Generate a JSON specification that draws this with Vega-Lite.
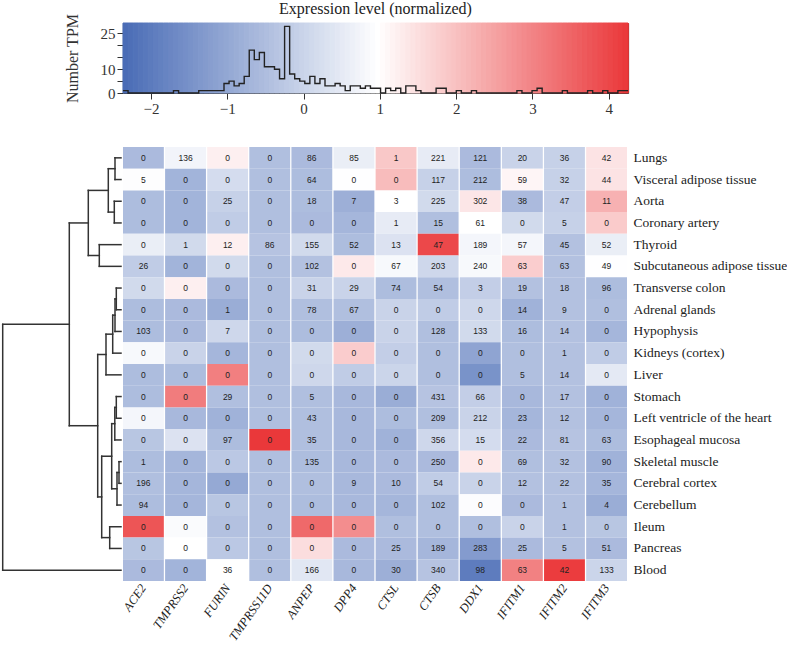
{
  "$schema": "https://vega.github.io/schema/vega-lite/v6.json",
  "background": "white",
  "padding": {"left": 0, "top": 1, "right": 0, "bottom": 0},
  "columns": 2,
  "spacing": {"row": 54, "column": 0},
  "bounds": "flush",
  "config": {"view": {"stroke": null}, "font": "Liberation Serif"},
  "datasets": {
    "bins": [
      {"x0": -2.367, "x1": -2.3008, "n": 1}, {"x0": -2.3008, "x1": -2.2346, "n": 0}, {"x0": -2.2346, "x1": -2.1684, "n": 0}, {"x0": -2.1684, "x1": -2.1022, "n": 0}, {"x0": -2.1022, "x1": -2.036, "n": 0},
      {"x0": -2.036, "x1": -1.9698, "n": 0}, {"x0": -1.9698, "x1": -1.9036, "n": 0}, {"x0": -1.9036, "x1": -1.8374, "n": 0}, {"x0": -1.8374, "x1": -1.7712, "n": 0}, {"x0": -1.7712, "x1": -1.705, "n": 0},
      {"x0": -1.705, "x1": -1.6388, "n": 1}, {"x0": -1.6388, "x1": -1.5726, "n": 0}, {"x0": -1.5726, "x1": -1.5064, "n": 0}, {"x0": -1.5064, "x1": -1.4402, "n": 0}, {"x0": -1.4402, "x1": -1.374, "n": 0},
      {"x0": -1.374, "x1": -1.3078, "n": 1}, {"x0": -1.3078, "x1": -1.2416, "n": 1}, {"x0": -1.2416, "x1": -1.1754, "n": 1}, {"x0": -1.1754, "x1": -1.1092, "n": 1}, {"x0": -1.1092, "x1": -1.043, "n": 1},
      {"x0": -1.043, "x1": -0.9768, "n": 4}, {"x0": -0.9768, "x1": -0.9106, "n": 5}, {"x0": -0.9106, "x1": -0.8444, "n": 3}, {"x0": -0.8444, "x1": -0.7782, "n": 4}, {"x0": -0.7782, "x1": -0.712, "n": 7},
      {"x0": -0.712, "x1": -0.6458, "n": 18}, {"x0": -0.6458, "x1": -0.5796, "n": 14}, {"x0": -0.5796, "x1": -0.5134, "n": 17}, {"x0": -0.5134, "x1": -0.4472, "n": 11}, {"x0": -0.4472, "x1": -0.381, "n": 11},
      {"x0": -0.381, "x1": -0.3148, "n": 10}, {"x0": -0.3148, "x1": -0.2486, "n": 6}, {"x0": -0.2486, "x1": -0.1824, "n": 28}, {"x0": -0.1824, "x1": -0.1162, "n": 8}, {"x0": -0.1162, "x1": -0.05, "n": 6},
      {"x0": -0.05, "x1": 0.0162, "n": 5}, {"x0": 0.0162, "x1": 0.0824, "n": 4}, {"x0": 0.0824, "x1": 0.1486, "n": 7}, {"x0": 0.1486, "x1": 0.2148, "n": 4}, {"x0": 0.2148, "x1": 0.281, "n": 6},
      {"x0": 0.281, "x1": 0.3472, "n": 3}, {"x0": 0.3472, "x1": 0.4134, "n": 3}, {"x0": 0.4134, "x1": 0.4796, "n": 4}, {"x0": 0.4796, "x1": 0.5458, "n": 3}, {"x0": 0.5458, "x1": 0.612, "n": 1},
      {"x0": 0.612, "x1": 0.6782, "n": 3}, {"x0": 0.6782, "x1": 0.7444, "n": 3}, {"x0": 0.7444, "x1": 0.8106, "n": 2}, {"x0": 0.8106, "x1": 0.8768, "n": 3}, {"x0": 0.8768, "x1": 0.943, "n": 2},
      {"x0": 0.943, "x1": 1.0092, "n": 2}, {"x0": 1.0092, "x1": 1.0754, "n": 0}, {"x0": 1.0754, "x1": 1.1416, "n": 2}, {"x0": 1.1416, "x1": 1.2078, "n": 1}, {"x0": 1.2078, "x1": 1.274, "n": 2},
      {"x0": 1.274, "x1": 1.3402, "n": 0}, {"x0": 1.3402, "x1": 1.4064, "n": 3}, {"x0": 1.4064, "x1": 1.4726, "n": 3}, {"x0": 1.4726, "x1": 1.5388, "n": 1}, {"x0": 1.5388, "x1": 1.605, "n": 0},
      {"x0": 1.605, "x1": 1.6712, "n": 0}, {"x0": 1.6712, "x1": 1.7374, "n": 0}, {"x0": 1.7374, "x1": 1.8036, "n": 2}, {"x0": 1.8036, "x1": 1.8698, "n": 2}, {"x0": 1.8698, "x1": 1.936, "n": 0},
      {"x0": 1.936, "x1": 2.0022, "n": 0}, {"x0": 2.0022, "x1": 2.0684, "n": 1}, {"x0": 2.0684, "x1": 2.1346, "n": 0}, {"x0": 2.1346, "x1": 2.2008, "n": 0}, {"x0": 2.2008, "x1": 2.267, "n": 1},
      {"x0": 2.267, "x1": 2.3332, "n": 0}, {"x0": 2.3332, "x1": 2.3994, "n": 0}, {"x0": 2.3994, "x1": 2.4656, "n": 0}, {"x0": 2.4656, "x1": 2.5318, "n": 0}, {"x0": 2.5318, "x1": 2.598, "n": 0},
      {"x0": 2.598, "x1": 2.6642, "n": 0}, {"x0": 2.6642, "x1": 2.7304, "n": 0}, {"x0": 2.7304, "x1": 2.7966, "n": 0}, {"x0": 2.7966, "x1": 2.8628, "n": 1}, {"x0": 2.8628, "x1": 2.929, "n": 0},
      {"x0": 2.929, "x1": 2.9952, "n": 0}, {"x0": 2.9952, "x1": 3.0614, "n": 1}, {"x0": 3.0614, "x1": 3.1276, "n": 2}, {"x0": 3.1276, "x1": 3.1938, "n": 0}, {"x0": 3.1938, "x1": 3.26, "n": 0},
      {"x0": 3.26, "x1": 3.3262, "n": 0}, {"x0": 3.3262, "x1": 3.3924, "n": 0}, {"x0": 3.3924, "x1": 3.4586, "n": 1}, {"x0": 3.4586, "x1": 3.5248, "n": 0}, {"x0": 3.5248, "x1": 3.591, "n": 0},
      {"x0": 3.591, "x1": 3.6572, "n": 0}, {"x0": 3.6572, "x1": 3.7234, "n": 0}, {"x0": 3.7234, "x1": 3.7896, "n": 1}, {"x0": 3.7896, "x1": 3.8558, "n": 0}, {"x0": 3.8558, "x1": 3.922, "n": 0},
      {"x0": 3.922, "x1": 3.9882, "n": 1}, {"x0": 3.9882, "x1": 4.0544, "n": 0}, {"x0": 4.0544, "x1": 4.1206, "n": 0}, {"x0": 4.1206, "x1": 4.1868, "n": 1}, {"x0": 4.1868, "x1": 4.253, "n": 1},
      {"x0": 4.253, "x1": 4.253, "n": 1}
    ],
    "dendro": [
      {"h1": 0.6, "h2": 0.6, "y1": 0, "y2": 1}, {"h1": 0, "h2": 0.6, "y1": 0, "y2": 0}, {"h1": 0, "h2": 0.6, "y1": 1, "y2": 1},
      {"h1": 0.67, "h2": 0.67, "y1": 2, "y2": 3}, {"h1": 0, "h2": 0.67, "y1": 2, "y2": 2}, {"h1": 0, "h2": 0.67, "y1": 3, "y2": 3},
      {"h1": 1.27, "h2": 1.27, "y1": 0.5, "y2": 2.5}, {"h1": 0.6, "h2": 1.27, "y1": 0.5, "y2": 0.5}, {"h1": 0.67, "h2": 1.27, "y1": 2.5, "y2": 2.5},
      {"h1": 2.17, "h2": 2.17, "y1": 4, "y2": 5}, {"h1": 0, "h2": 2.17, "y1": 4, "y2": 4}, {"h1": 0, "h2": 2.17, "y1": 5, "y2": 5},
      {"h1": 3.27, "h2": 3.27, "y1": 1.5, "y2": 4.5}, {"h1": 1.27, "h2": 3.27, "y1": 1.5, "y2": 1.5}, {"h1": 2.17, "h2": 3.27, "y1": 4.5, "y2": 4.5},
      {"h1": 0.47, "h2": 0.47, "y1": 6, "y2": 7}, {"h1": 0, "h2": 0.47, "y1": 6, "y2": 6}, {"h1": 0, "h2": 0.47, "y1": 7, "y2": 7},
      {"h1": 0.6, "h2": 0.6, "y1": 6.5, "y2": 8}, {"h1": 0.47, "h2": 0.6, "y1": 6.5, "y2": 6.5}, {"h1": 0, "h2": 0.6, "y1": 8, "y2": 8},
      {"h1": 0.83, "h2": 0.83, "y1": 7.25, "y2": 9}, {"h1": 0.6, "h2": 0.83, "y1": 7.25, "y2": 7.25}, {"h1": 0, "h2": 0.83, "y1": 9, "y2": 9},
      {"h1": 1.5, "h2": 1.5, "y1": 8.125, "y2": 10}, {"h1": 0.83, "h2": 1.5, "y1": 8.125, "y2": 8.125}, {"h1": 0, "h2": 1.5, "y1": 10, "y2": 10},
      {"h1": 0.47, "h2": 0.47, "y1": 11, "y2": 12}, {"h1": 0, "h2": 0.47, "y1": 11, "y2": 11}, {"h1": 0, "h2": 0.47, "y1": 12, "y2": 12},
      {"h1": 0.62, "h2": 0.62, "y1": 11.5, "y2": 13}, {"h1": 0.47, "h2": 0.62, "y1": 11.5, "y2": 11.5}, {"h1": 0, "h2": 0.62, "y1": 13, "y2": 13},
      {"h1": 0.2, "h2": 0.2, "y1": 14, "y2": 15}, {"h1": 0, "h2": 0.2, "y1": 14, "y2": 14}, {"h1": 0, "h2": 0.2, "y1": 15, "y2": 15},
      {"h1": 0.4, "h2": 0.4, "y1": 14.5, "y2": 16}, {"h1": 0.2, "h2": 0.4, "y1": 14.5, "y2": 14.5}, {"h1": 0, "h2": 0.4, "y1": 16, "y2": 16},
      {"h1": 0.93, "h2": 0.93, "y1": 12.25, "y2": 15.25}, {"h1": 0.62, "h2": 0.93, "y1": 12.25, "y2": 12.25}, {"h1": 0.4, "h2": 0.93, "y1": 15.25, "y2": 15.25},
      {"h1": 1.13, "h2": 1.13, "y1": 17, "y2": 18}, {"h1": 0, "h2": 1.13, "y1": 17, "y2": 17}, {"h1": 0, "h2": 1.13, "y1": 18, "y2": 18},
      {"h1": 1.93, "h2": 1.93, "y1": 13.75, "y2": 17.5}, {"h1": 0.93, "h2": 1.93, "y1": 13.75, "y2": 13.75}, {"h1": 1.13, "h2": 1.93, "y1": 17.5, "y2": 17.5},
      {"h1": 2.33, "h2": 2.33, "y1": 9.0625, "y2": 15.625}, {"h1": 1.5, "h2": 2.33, "y1": 9.0625, "y2": 9.0625}, {"h1": 1.93, "h2": 2.33, "y1": 15.625, "y2": 15.625},
      {"h1": 5.17, "h2": 5.17, "y1": 3, "y2": 12.344}, {"h1": 3.27, "h2": 5.17, "y1": 3, "y2": 3}, {"h1": 2.33, "h2": 5.17, "y1": 12.344, "y2": 12.344},
      {"h1": 11.83, "h2": 11.83, "y1": 7.672, "y2": 19}, {"h1": 5.17, "h2": 11.83, "y1": 7.672, "y2": 7.672}, {"h1": 0, "h2": 11.83, "y1": 19, "y2": 19}
    ],
    "cells": [
      {"tissue": "Lungs", "gene": "ACE2", "tpm": 0, "z": -0.6}, {"tissue": "Lungs", "gene": "TMPRSS2", "tpm": 136, "z": 0.7}, {"tissue": "Lungs", "gene": "FURIN", "tpm": 0, "z": 1.2}, {"tissue": "Lungs", "gene": "TMPRSS11D", "tpm": 0, "z": -0.5}, {"tissue": "Lungs", "gene": "ANPEP", "tpm": 86, "z": -0.6}, {"tissue": "Lungs", "gene": "DPP4", "tpm": 85, "z": 0.55}, {"tissue": "Lungs", "gene": "CTSL", "tpm": 1, "z": 1.85}, {"tissue": "Lungs", "gene": "CTSB", "tpm": 221, "z": 0.5}, {"tissue": "Lungs", "gene": "DDX1", "tpm": 121, "z": -0.6}, {"tissue": "Lungs", "gene": "IFITM1", "tpm": 20, "z": -0.05}, {"tissue": "Lungs", "gene": "IFITM2", "tpm": 36, "z": -0.1}, {"tissue": "Lungs", "gene": "IFITM3", "tpm": 42, "z": 1.4},
      {"tissue": "Visceral adipose tissue", "gene": "ACE2", "tpm": 5, "z": 0.9}, {"tissue": "Visceral adipose tissue", "gene": "TMPRSS2", "tpm": 0, "z": -0.75}, {"tissue": "Visceral adipose tissue", "gene": "FURIN", "tpm": 0, "z": 0.15}, {"tissue": "Visceral adipose tissue", "gene": "TMPRSS11D", "tpm": 0, "z": -0.5}, {"tissue": "Visceral adipose tissue", "gene": "ANPEP", "tpm": 64, "z": -0.55}, {"tissue": "Visceral adipose tissue", "gene": "DPP4", "tpm": 0, "z": 0.93}, {"tissue": "Visceral adipose tissue", "gene": "CTSL", "tpm": 0, "z": 2.05}, {"tissue": "Visceral adipose tissue", "gene": "CTSB", "tpm": 117, "z": -0.1}, {"tissue": "Visceral adipose tissue", "gene": "DDX1", "tpm": 212, "z": -0.55}, {"tissue": "Visceral adipose tissue", "gene": "IFITM1", "tpm": 59, "z": 1.1}, {"tissue": "Visceral adipose tissue", "gene": "IFITM2", "tpm": 32, "z": -0.1}, {"tissue": "Visceral adipose tissue", "gene": "IFITM3", "tpm": 44, "z": 1.4},
      {"tissue": "Aorta", "gene": "ACE2", "tpm": 0, "z": -0.55}, {"tissue": "Aorta", "gene": "TMPRSS2", "tpm": 0, "z": -0.75}, {"tissue": "Aorta", "gene": "FURIN", "tpm": 25, "z": -0.1}, {"tissue": "Aorta", "gene": "TMPRSS11D", "tpm": 0, "z": -0.5}, {"tissue": "Aorta", "gene": "ANPEP", "tpm": 18, "z": -0.55}, {"tissue": "Aorta", "gene": "DPP4", "tpm": 7, "z": -0.85}, {"tissue": "Aorta", "gene": "CTSL", "tpm": 3, "z": 0.95}, {"tissue": "Aorta", "gene": "CTSB", "tpm": 225, "z": 0.1}, {"tissue": "Aorta", "gene": "DDX1", "tpm": 302, "z": 1.35}, {"tissue": "Aorta", "gene": "IFITM1", "tpm": 38, "z": -0.6}, {"tissue": "Aorta", "gene": "IFITM2", "tpm": 47, "z": -0.15}, {"tissue": "Aorta", "gene": "IFITM3", "tpm": 11, "z": 2.22},
      {"tissue": "Coronary artery", "gene": "ACE2", "tpm": 0, "z": -0.55}, {"tissue": "Coronary artery", "gene": "TMPRSS2", "tpm": 0, "z": -0.75}, {"tissue": "Coronary artery", "gene": "FURIN", "tpm": 0, "z": -0.2}, {"tissue": "Coronary artery", "gene": "TMPRSS11D", "tpm": 0, "z": -0.5}, {"tissue": "Coronary artery", "gene": "ANPEP", "tpm": 0, "z": -0.6}, {"tissue": "Coronary artery", "gene": "DPP4", "tpm": 0, "z": -0.7}, {"tissue": "Coronary artery", "gene": "CTSL", "tpm": 1, "z": 0.5}, {"tissue": "Coronary artery", "gene": "CTSB", "tpm": 15, "z": -0.5}, {"tissue": "Coronary artery", "gene": "DDX1", "tpm": 61, "z": 0.95}, {"tissue": "Coronary artery", "gene": "IFITM1", "tpm": 0, "z": 0.1}, {"tissue": "Coronary artery", "gene": "IFITM2", "tpm": 5, "z": -0.1}, {"tissue": "Coronary artery", "gene": "IFITM3", "tpm": 0, "z": 1.8},
      {"tissue": "Thyroid", "gene": "ACE2", "tpm": 0, "z": 0.55}, {"tissue": "Thyroid", "gene": "TMPRSS2", "tpm": 1, "z": 0.1}, {"tissue": "Thyroid", "gene": "FURIN", "tpm": 12, "z": 1.2}, {"tissue": "Thyroid", "gene": "TMPRSS11D", "tpm": 86, "z": -0.4}, {"tissue": "Thyroid", "gene": "ANPEP", "tpm": 155, "z": 0.1}, {"tissue": "Thyroid", "gene": "DPP4", "tpm": 52, "z": -0.55}, {"tissue": "Thyroid", "gene": "CTSL", "tpm": 13, "z": 0.3}, {"tissue": "Thyroid", "gene": "CTSB", "tpm": 47, "z": 3.95}, {"tissue": "Thyroid", "gene": "DDX1", "tpm": 189, "z": 0.75}, {"tissue": "Thyroid", "gene": "IFITM1", "tpm": 57, "z": 0.75}, {"tissue": "Thyroid", "gene": "IFITM2", "tpm": 45, "z": -0.45}, {"tissue": "Thyroid", "gene": "IFITM3", "tpm": 52, "z": 0.55},
      {"tissue": "Subcutaneous adipose tissue", "gene": "ACE2", "tpm": 26, "z": -0.2}, {"tissue": "Subcutaneous adipose tissue", "gene": "TMPRSS2", "tpm": 0, "z": -0.75}, {"tissue": "Subcutaneous adipose tissue", "gene": "FURIN", "tpm": 0, "z": 0.1}, {"tissue": "Subcutaneous adipose tissue", "gene": "TMPRSS11D", "tpm": 0, "z": -0.5}, {"tissue": "Subcutaneous adipose tissue", "gene": "ANPEP", "tpm": 102, "z": -0.45}, {"tissue": "Subcutaneous adipose tissue", "gene": "DPP4", "tpm": 0, "z": 1.3}, {"tissue": "Subcutaneous adipose tissue", "gene": "CTSL", "tpm": 67, "z": 0.8}, {"tissue": "Subcutaneous adipose tissue", "gene": "CTSB", "tpm": 203, "z": 0.05}, {"tissue": "Subcutaneous adipose tissue", "gene": "DDX1", "tpm": 240, "z": 0.8}, {"tissue": "Subcutaneous adipose tissue", "gene": "IFITM1", "tpm": 63, "z": 1.76}, {"tissue": "Subcutaneous adipose tissue", "gene": "IFITM2", "tpm": 63, "z": -0.45}, {"tissue": "Subcutaneous adipose tissue", "gene": "IFITM3", "tpm": 49, "z": 0.93},
      {"tissue": "Transverse colon", "gene": "ACE2", "tpm": 0, "z": 0.1}, {"tissue": "Transverse colon", "gene": "TMPRSS2", "tpm": 0, "z": 1.2}, {"tissue": "Transverse colon", "gene": "FURIN", "tpm": 0, "z": -0.6}, {"tissue": "Transverse colon", "gene": "TMPRSS11D", "tpm": 0, "z": -0.5}, {"tissue": "Transverse colon", "gene": "ANPEP", "tpm": 31, "z": -0.05}, {"tissue": "Transverse colon", "gene": "DPP4", "tpm": 29, "z": -0.05}, {"tissue": "Transverse colon", "gene": "CTSL", "tpm": 74, "z": -0.55}, {"tissue": "Transverse colon", "gene": "CTSB", "tpm": 54, "z": -0.5}, {"tissue": "Transverse colon", "gene": "DDX1", "tpm": 3, "z": -0.15}, {"tissue": "Transverse colon", "gene": "IFITM1", "tpm": 19, "z": -0.45}, {"tissue": "Transverse colon", "gene": "IFITM2", "tpm": 18, "z": -0.45}, {"tissue": "Transverse colon", "gene": "IFITM3", "tpm": 96, "z": -0.55},
      {"tissue": "Adrenal glands", "gene": "ACE2", "tpm": 0, "z": -0.55}, {"tissue": "Adrenal glands", "gene": "TMPRSS2", "tpm": 0, "z": -0.6}, {"tissue": "Adrenal glands", "gene": "FURIN", "tpm": 1, "z": -0.9}, {"tissue": "Adrenal glands", "gene": "TMPRSS11D", "tpm": 0, "z": -0.5}, {"tissue": "Adrenal glands", "gene": "ANPEP", "tpm": 78, "z": -0.5}, {"tissue": "Adrenal glands", "gene": "DPP4", "tpm": 67, "z": -0.5}, {"tissue": "Adrenal glands", "gene": "CTSL", "tpm": 0, "z": -0.05}, {"tissue": "Adrenal glands", "gene": "CTSB", "tpm": 0, "z": -0.2}, {"tissue": "Adrenal glands", "gene": "DDX1", "tpm": 0, "z": 0.05}, {"tissue": "Adrenal glands", "gene": "IFITM1", "tpm": 14, "z": -0.8}, {"tissue": "Adrenal glands", "gene": "IFITM2", "tpm": 9, "z": -0.45}, {"tissue": "Adrenal glands", "gene": "IFITM3", "tpm": 0, "z": -0.5},
      {"tissue": "Hypophysis", "gene": "ACE2", "tpm": 103, "z": -0.55}, {"tissue": "Hypophysis", "gene": "TMPRSS2", "tpm": 0, "z": -0.6}, {"tissue": "Hypophysis", "gene": "FURIN", "tpm": 7, "z": 0.05}, {"tissue": "Hypophysis", "gene": "TMPRSS11D", "tpm": 0, "z": -0.5}, {"tissue": "Hypophysis", "gene": "ANPEP", "tpm": 0, "z": -0.55}, {"tissue": "Hypophysis", "gene": "DPP4", "tpm": 0, "z": -0.85}, {"tissue": "Hypophysis", "gene": "CTSL", "tpm": 0, "z": -0.05}, {"tissue": "Hypophysis", "gene": "CTSB", "tpm": 128, "z": -0.5}, {"tissue": "Hypophysis", "gene": "DDX1", "tpm": 133, "z": 0.1}, {"tissue": "Hypophysis", "gene": "IFITM1", "tpm": 16, "z": -0.55}, {"tissue": "Hypophysis", "gene": "IFITM2", "tpm": 14, "z": -0.45}, {"tissue": "Hypophysis", "gene": "IFITM3", "tpm": 0, "z": -0.7},
      {"tissue": "Kidneys (cortex)", "gene": "ACE2", "tpm": 0, "z": 0.8}, {"tissue": "Kidneys (cortex)", "gene": "TMPRSS2", "tpm": 0, "z": -0.05}, {"tissue": "Kidneys (cortex)", "gene": "FURIN", "tpm": 0, "z": -0.7}, {"tissue": "Kidneys (cortex)", "gene": "TMPRSS11D", "tpm": 0, "z": -0.5}, {"tissue": "Kidneys (cortex)", "gene": "ANPEP", "tpm": 0, "z": 0.1}, {"tissue": "Kidneys (cortex)", "gene": "DPP4", "tpm": 0, "z": 1.78}, {"tissue": "Kidneys (cortex)", "gene": "CTSL", "tpm": 0, "z": -0.15}, {"tissue": "Kidneys (cortex)", "gene": "CTSB", "tpm": 0, "z": -0.5}, {"tissue": "Kidneys (cortex)", "gene": "DDX1", "tpm": 0, "z": -1.1}, {"tissue": "Kidneys (cortex)", "gene": "IFITM1", "tpm": 0, "z": -0.5}, {"tissue": "Kidneys (cortex)", "gene": "IFITM2", "tpm": 1, "z": -0.45}, {"tissue": "Kidneys (cortex)", "gene": "IFITM3", "tpm": 0, "z": -0.2},
      {"tissue": "Liver", "gene": "ACE2", "tpm": 0, "z": -0.55}, {"tissue": "Liver", "gene": "TMPRSS2", "tpm": 0, "z": -0.55}, {"tissue": "Liver", "gene": "FURIN", "tpm": 0, "z": 3.05}, {"tissue": "Liver", "gene": "TMPRSS11D", "tpm": 0, "z": -0.5}, {"tissue": "Liver", "gene": "ANPEP", "tpm": 0, "z": 0.05}, {"tissue": "Liver", "gene": "DPP4", "tpm": 0, "z": -0.2}, {"tissue": "Liver", "gene": "CTSL", "tpm": 0, "z": 0.0}, {"tissue": "Liver", "gene": "CTSB", "tpm": 0, "z": -0.5}, {"tissue": "Liver", "gene": "DDX1", "tpm": 0, "z": -1.5}, {"tissue": "Liver", "gene": "IFITM1", "tpm": 5, "z": -0.5}, {"tissue": "Liver", "gene": "IFITM2", "tpm": 14, "z": -0.45}, {"tissue": "Liver", "gene": "IFITM3", "tpm": 0, "z": 0.45},
      {"tissue": "Stomach", "gene": "ACE2", "tpm": 0, "z": -0.55}, {"tissue": "Stomach", "gene": "TMPRSS2", "tpm": 0, "z": 3.1}, {"tissue": "Stomach", "gene": "FURIN", "tpm": 29, "z": -0.5}, {"tissue": "Stomach", "gene": "TMPRSS11D", "tpm": 0, "z": -0.5}, {"tissue": "Stomach", "gene": "ANPEP", "tpm": 5, "z": -0.5}, {"tissue": "Stomach", "gene": "DPP4", "tpm": 0, "z": -0.65}, {"tissue": "Stomach", "gene": "CTSL", "tpm": 0, "z": -0.9}, {"tissue": "Stomach", "gene": "CTSB", "tpm": 431, "z": -0.4}, {"tissue": "Stomach", "gene": "DDX1", "tpm": 66, "z": -0.15}, {"tissue": "Stomach", "gene": "IFITM1", "tpm": 0, "z": -0.65}, {"tissue": "Stomach", "gene": "IFITM2", "tpm": 17, "z": -0.45}, {"tissue": "Stomach", "gene": "IFITM3", "tpm": 0, "z": -0.8},
      {"tissue": "Left ventricle of the heart", "gene": "ACE2", "tpm": 0, "z": 0.75}, {"tissue": "Left ventricle of the heart", "gene": "TMPRSS2", "tpm": 0, "z": -0.65}, {"tissue": "Left ventricle of the heart", "gene": "FURIN", "tpm": 0, "z": -0.8}, {"tissue": "Left ventricle of the heart", "gene": "TMPRSS11D", "tpm": 0, "z": -0.5}, {"tissue": "Left ventricle of the heart", "gene": "ANPEP", "tpm": 43, "z": -0.5}, {"tissue": "Left ventricle of the heart", "gene": "DPP4", "tpm": 0, "z": -0.65}, {"tissue": "Left ventricle of the heart", "gene": "CTSL", "tpm": 0, "z": -0.55}, {"tissue": "Left ventricle of the heart", "gene": "CTSB", "tpm": 209, "z": -0.5}, {"tissue": "Left ventricle of the heart", "gene": "DDX1", "tpm": 212, "z": -0.05}, {"tissue": "Left ventricle of the heart", "gene": "IFITM1", "tpm": 23, "z": -0.7}, {"tissue": "Left ventricle of the heart", "gene": "IFITM2", "tpm": 12, "z": -0.45}, {"tissue": "Left ventricle of the heart", "gene": "IFITM3", "tpm": 0, "z": -0.7},
      {"tissue": "Esophageal mucosa", "gene": "ACE2", "tpm": 0, "z": -0.35}, {"tissue": "Esophageal mucosa", "gene": "TMPRSS2", "tpm": 0, "z": 0.3}, {"tissue": "Esophageal mucosa", "gene": "FURIN", "tpm": 97, "z": -0.55}, {"tissue": "Esophageal mucosa", "gene": "TMPRSS11D", "tpm": 0, "z": 4.22}, {"tissue": "Esophageal mucosa", "gene": "ANPEP", "tpm": 35, "z": -0.5}, {"tissue": "Esophageal mucosa", "gene": "DPP4", "tpm": 0, "z": -0.65}, {"tissue": "Esophageal mucosa", "gene": "CTSL", "tpm": 0, "z": -0.8}, {"tissue": "Esophageal mucosa", "gene": "CTSB", "tpm": 356, "z": 0.05}, {"tissue": "Esophageal mucosa", "gene": "DDX1", "tpm": 15, "z": 0.15}, {"tissue": "Esophageal mucosa", "gene": "IFITM1", "tpm": 22, "z": -0.6}, {"tissue": "Esophageal mucosa", "gene": "IFITM2", "tpm": 81, "z": -0.4}, {"tissue": "Esophageal mucosa", "gene": "IFITM3", "tpm": 63, "z": -0.55},
      {"tissue": "Skeletal muscle", "gene": "ACE2", "tpm": 1, "z": -0.55}, {"tissue": "Skeletal muscle", "gene": "TMPRSS2", "tpm": 0, "z": -0.7}, {"tissue": "Skeletal muscle", "gene": "FURIN", "tpm": 0, "z": -0.3}, {"tissue": "Skeletal muscle", "gene": "TMPRSS11D", "tpm": 0, "z": -0.5}, {"tissue": "Skeletal muscle", "gene": "ANPEP", "tpm": 135, "z": -0.55}, {"tissue": "Skeletal muscle", "gene": "DPP4", "tpm": 0, "z": -0.65}, {"tissue": "Skeletal muscle", "gene": "CTSL", "tpm": 0, "z": -0.6}, {"tissue": "Skeletal muscle", "gene": "CTSB", "tpm": 250, "z": -0.6}, {"tissue": "Skeletal muscle", "gene": "DDX1", "tpm": 0, "z": 1.3}, {"tissue": "Skeletal muscle", "gene": "IFITM1", "tpm": 69, "z": -0.5}, {"tissue": "Skeletal muscle", "gene": "IFITM2", "tpm": 32, "z": -0.45}, {"tissue": "Skeletal muscle", "gene": "IFITM3", "tpm": 90, "z": -0.8},
      {"tissue": "Cerebral cortex", "gene": "ACE2", "tpm": 196, "z": -0.5}, {"tissue": "Cerebral cortex", "gene": "TMPRSS2", "tpm": 0, "z": -0.7}, {"tissue": "Cerebral cortex", "gene": "FURIN", "tpm": 0, "z": -1.0}, {"tissue": "Cerebral cortex", "gene": "TMPRSS11D", "tpm": 0, "z": -0.5}, {"tissue": "Cerebral cortex", "gene": "ANPEP", "tpm": 0, "z": -0.5}, {"tissue": "Cerebral cortex", "gene": "DPP4", "tpm": 9, "z": -0.65}, {"tissue": "Cerebral cortex", "gene": "CTSL", "tpm": 10, "z": -0.6}, {"tissue": "Cerebral cortex", "gene": "CTSB", "tpm": 54, "z": -0.2}, {"tissue": "Cerebral cortex", "gene": "DDX1", "tpm": 0, "z": -0.05}, {"tissue": "Cerebral cortex", "gene": "IFITM1", "tpm": 12, "z": -0.45}, {"tissue": "Cerebral cortex", "gene": "IFITM2", "tpm": 22, "z": -0.45}, {"tissue": "Cerebral cortex", "gene": "IFITM3", "tpm": 35, "z": -0.7},
      {"tissue": "Cerebellum", "gene": "ACE2", "tpm": 94, "z": -0.55}, {"tissue": "Cerebellum", "gene": "TMPRSS2", "tpm": 0, "z": -0.7}, {"tissue": "Cerebellum", "gene": "FURIN", "tpm": 0, "z": -0.35}, {"tissue": "Cerebellum", "gene": "TMPRSS11D", "tpm": 0, "z": -0.5}, {"tissue": "Cerebellum", "gene": "ANPEP", "tpm": 0, "z": -0.55}, {"tissue": "Cerebellum", "gene": "DPP4", "tpm": 0, "z": -0.65}, {"tissue": "Cerebellum", "gene": "CTSL", "tpm": 0, "z": -0.7}, {"tissue": "Cerebellum", "gene": "CTSB", "tpm": 102, "z": -0.5}, {"tissue": "Cerebellum", "gene": "DDX1", "tpm": 0, "z": 0.88}, {"tissue": "Cerebellum", "gene": "IFITM1", "tpm": 0, "z": -0.6}, {"tissue": "Cerebellum", "gene": "IFITM2", "tpm": 1, "z": -0.45}, {"tissue": "Cerebellum", "gene": "IFITM3", "tpm": 4, "z": -0.9},
      {"tissue": "Ileum", "gene": "ACE2", "tpm": 0, "z": 3.75}, {"tissue": "Ileum", "gene": "TMPRSS2", "tpm": 0, "z": 0.85}, {"tissue": "Ileum", "gene": "FURIN", "tpm": 0, "z": -0.45}, {"tissue": "Ileum", "gene": "TMPRSS11D", "tpm": 0, "z": -0.5}, {"tissue": "Ileum", "gene": "ANPEP", "tpm": 0, "z": 3.42}, {"tissue": "Ileum", "gene": "DPP4", "tpm": 0, "z": 2.82}, {"tissue": "Ileum", "gene": "CTSL", "tpm": 0, "z": -0.5}, {"tissue": "Ileum", "gene": "CTSB", "tpm": 0, "z": -0.5}, {"tissue": "Ileum", "gene": "DDX1", "tpm": 0, "z": -0.5}, {"tissue": "Ileum", "gene": "IFITM1", "tpm": 0, "z": -0.05}, {"tissue": "Ileum", "gene": "IFITM2", "tpm": 1, "z": -0.45}, {"tissue": "Ileum", "gene": "IFITM3", "tpm": 0, "z": -0.35},
      {"tissue": "Pancreas", "gene": "ACE2", "tpm": 0, "z": -0.35}, {"tissue": "Pancreas", "gene": "TMPRSS2", "tpm": 0, "z": 0.94}, {"tissue": "Pancreas", "gene": "FURIN", "tpm": 0, "z": -0.3}, {"tissue": "Pancreas", "gene": "TMPRSS11D", "tpm": 0, "z": -0.5}, {"tissue": "Pancreas", "gene": "ANPEP", "tpm": 0, "z": 1.5}, {"tissue": "Pancreas", "gene": "DPP4", "tpm": 0, "z": -0.6}, {"tissue": "Pancreas", "gene": "CTSL", "tpm": 25, "z": -0.6}, {"tissue": "Pancreas", "gene": "CTSB", "tpm": 189, "z": -0.7}, {"tissue": "Pancreas", "gene": "DDX1", "tpm": 283, "z": -1.3}, {"tissue": "Pancreas", "gene": "IFITM1", "tpm": 25, "z": -0.6}, {"tissue": "Pancreas", "gene": "IFITM2", "tpm": 5, "z": -0.45}, {"tissue": "Pancreas", "gene": "IFITM3", "tpm": 51, "z": -0.6},
      {"tissue": "Blood", "gene": "ACE2", "tpm": 0, "z": -0.6}, {"tissue": "Blood", "gene": "TMPRSS2", "tpm": 0, "z": -0.75}, {"tissue": "Blood", "gene": "FURIN", "tpm": 36, "z": 0.94}, {"tissue": "Blood", "gene": "TMPRSS11D", "tpm": 0, "z": -0.5}, {"tissue": "Blood", "gene": "ANPEP", "tpm": 166, "z": 0.4}, {"tissue": "Blood", "gene": "DPP4", "tpm": 0, "z": -0.65}, {"tissue": "Blood", "gene": "CTSL", "tpm": 30, "z": -0.85}, {"tissue": "Blood", "gene": "CTSB", "tpm": 340, "z": -0.4}, {"tissue": "Blood", "gene": "DDX1", "tpm": 98, "z": -2.0}, {"tissue": "Blood", "gene": "IFITM1", "tpm": 63, "z": 3.02}, {"tissue": "Blood", "gene": "IFITM2", "tpm": 42, "z": 4.15}, {"tissue": "Blood", "gene": "IFITM3", "tpm": 133, "z": 0.0}
    ]
  },
  "concat": [
    {
      "width": 123, "height": 70,
      "data": {"values": [{"a": 1}]},
      "mark": {"type": "point", "opacity": 0},
      "encoding": {}
    },
    {
      "width": 505, "height": 70,
      "title": {"text": "Expression level (normalized)", "font": "Liberation Serif", "fontSize": 16, "fontWeight": "normal", "color": "#222", "anchor": "middle", "offset": 3, "dy": 7},
      "data": {"name": "bins"},
      "resolve": {"axis": {"x": "independent", "y": "independent"}},
      "layer": [
        {
          "mark": {"type": "rect", "strokeWidth": 1},
          "encoding": {
            "x": {"field": "x0", "type": "quantitative", "scale": {"domain": [-2.367, 4.253], "nice": false, "zero": false},
              "axis": {"orient": "bottom", "values": [-2, -1, 0, 1, 2, 3, 4], "title": null, "grid": false, "tickSize": 6, "tickColor": "#333", "domainColor": "#333", "domainWidth": 1.2, "labelFont": "Liberation Serif", "labelFontSize": 15, "labelColor": "#333", "labelPadding": 2}},
            "x2": {"field": "x1"},
            "color": {"field": "x0", "type": "quantitative", "legend": null, "scale": {"type": "linear", "domain": [-2.367, 0.943, 4.253], "range": ["#4a6cb6", "#ffffff", "#ea3638"], "interpolate": "rgb"}},
            "stroke": {"field": "x0", "type": "quantitative", "legend": null, "scale": {"type": "linear", "domain": [-2.367, 0.943, 4.253], "range": ["#4a6cb6", "#ffffff", "#ea3638"], "interpolate": "rgb"}}
          }
        },
        {
          "mark": {"type": "line", "interpolate": "step-after", "color": "#222", "strokeWidth": 1.4},
          "encoding": {
            "x": {"field": "x0", "type": "quantitative", "axis": {"orient": "top", "labels": false, "ticks": false, "title": null, "grid": false, "domainColor": "#333", "domainWidth": 1.2}},
            "y": {"field": "n", "type": "quantitative", "scale": {"domain": [0, 29.4], "nice": false},
              "axis": {"orient": "left", "values": [0, 5, 10, 15, 20, 25], "labelExpr": "datum.value == 0 || datum.value == 10 || datum.value == 25 ? datum.label : ''", "title": "Number TPM", "titleFont": "Liberation Serif", "titleFontSize": 16, "titleFontWeight": "normal", "titleColor": "#333", "titlePadding": 20, "grid": false, "tickSize": 6, "tickColor": "#333", "domainColor": "#333", "domainWidth": 1.2, "labelFont": "Liberation Serif", "labelFontSize": 15, "labelColor": "#333", "labelPadding": 2}}
          }
        },
        {
          "mark": {"type": "line", "strokeOpacity": 0},
          "encoding": {
            "x": {"field": "x0", "type": "quantitative", "axis": null},
            "y": {"field": "n", "type": "quantitative", "axis": {"orient": "right", "labels": false, "ticks": false, "title": null, "grid": false, "domainColor": "#333", "domainWidth": 1.2}}
          }
        }
      ]
    },
    {
      "width": 123, "height": 434,
      "data": {"name": "dendro"},
      "mark": {"type": "rule", "color": "#333", "strokeWidth": 1.5, "strokeCap": "square"},
      "encoding": {
        "x": {"field": "h1", "type": "quantitative", "scale": {"domain": [-0.2, 12.1], "reverse": true, "nice": false, "zero": false}, "axis": null},
        "x2": {"field": "h2"},
        "y": {"field": "y1", "type": "quantitative", "scale": {"domain": [-0.5, 19.5], "reverse": true, "nice": false, "zero": false}, "axis": null},
        "y2": {"field": "y2"}
      }
    },
    {
      "width": 504, "height": 434,
      "data": {"name": "cells"},
      "encoding": {
        "x": {"field": "gene", "type": "nominal", "sort": ["ACE2", "TMPRSS2", "FURIN", "TMPRSS11D", "ANPEP", "DPP4", "CTSL", "CTSB", "DDX1", "IFITM1", "IFITM2", "IFITM3"], "scale": {"paddingInner": 0.03, "paddingOuter": 0},
          "axis": {"orient": "bottom", "title": null, "ticks": false, "domain": false, "labelAngle": -55, "labelAlign": "right", "labelBaseline": "middle", "labelFont": "Liberation Serif", "labelFontStyle": "italic", "labelFontSize": 12.5, "labelColor": "#222", "labelPadding": 4}},
        "y": {"field": "tissue", "type": "nominal", "sort": ["Lungs", "Visceral adipose tissue", "Aorta", "Coronary artery", "Thyroid", "Subcutaneous adipose tissue", "Transverse colon", "Adrenal glands", "Hypophysis", "Kidneys (cortex)", "Liver", "Stomach", "Left ventricle of the heart", "Esophageal mucosa", "Skeletal muscle", "Cerebral cortex", "Cerebellum", "Ileum", "Pancreas", "Blood"], "scale": {"paddingInner": 0, "paddingOuter": 0},
          "axis": {"orient": "right", "title": null, "ticks": false, "domain": false, "labelFont": "Liberation Serif", "labelFontSize": 13.5, "labelColor": "#222", "labelPadding": 6}}
      },
      "layer": [
        {
          "mark": {"type": "rect"},
          "encoding": {
            "color": {"field": "z", "type": "quantitative", "legend": null, "scale": {"type": "linear", "domain": [-2.367, 0.943, 4.253], "range": ["#4a6cb6", "#ffffff", "#ea3638"], "interpolate": "rgb"}}
          }
        },
        {
          "mark": {"type": "text", "font": "Liberation Sans", "fontSize": 8.5, "color": "#222"},
          "encoding": {"text": {"field": "tpm", "type": "quantitative"}}
        }
      ]
    }
  ]
}
